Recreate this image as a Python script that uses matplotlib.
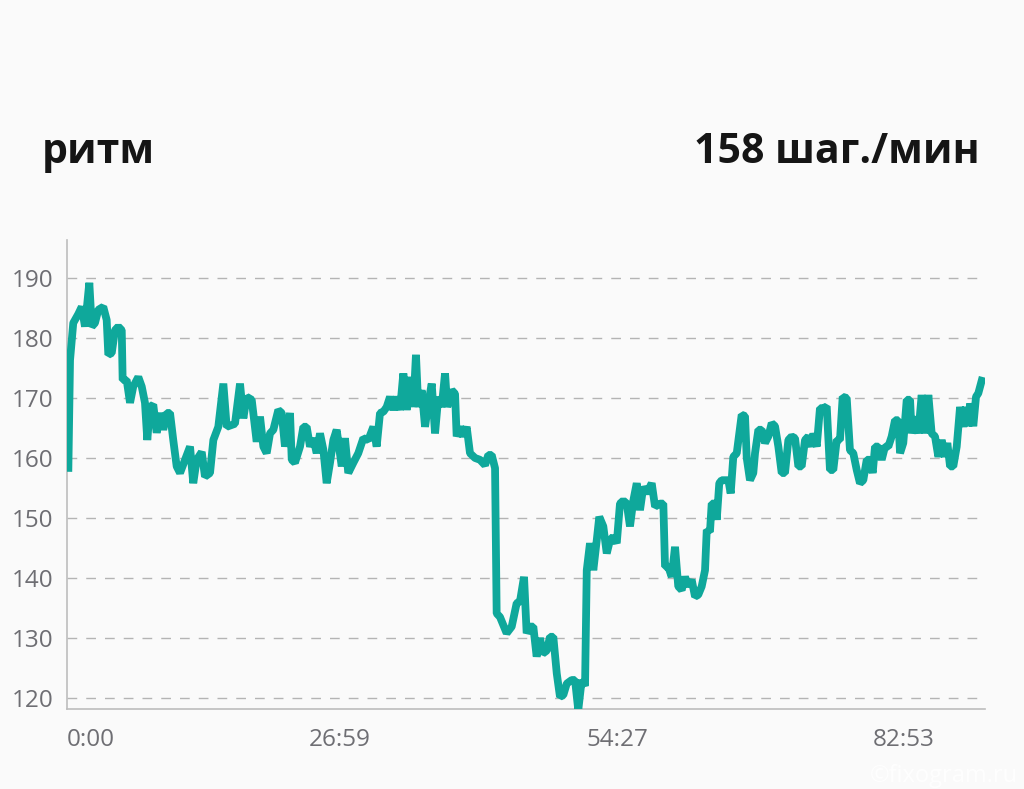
import matplotlib
matplotlib.use("Agg")
import matplotlib.pyplot as plt

# ---- data ----
title_left = "ритм"
title_right = "158 шаг./мин"
y_ticks = [120, 130, 140, 150, 160, 170, 180, 190]
x_tick_minutes = [0.0, 26 + 59/60, 54 + 27/60, 82 + 53/60]
x_tick_labels = ["0:00", "26:59", "54:27", "82:53"]

time_min = [
    0.13, 0.30, 0.62, 1.12, 1.46, 1.78, 2.21, 2.45, 2.77, 3.10, 3.59, 3.93, 4.09, 4.43, 4.75, 5.08,
    5.42, 5.51, 5.91, 6.24, 6.56, 7.06, 7.40, 7.72, 7.95, 8.22, 8.54, 8.88, 9.21, 9.53, 9.87, 10.20,
    10.52, 10.86, 11.19, 11.68, 12.18, 12.50, 12.84, 13.34, 13.66, 14.16, 14.49, 14.98, 15.48, 15.81,
    16.31, 16.63, 17.13, 17.46, 17.79, 18.29, 18.78, 19.11, 19.44, 19.77, 20.10, 20.43, 20.92, 21.26,
    21.58, 22.08, 22.25, 22.57, 23.07, 23.40, 23.73, 24.06, 24.39, 24.72, 25.05, 25.38, 25.71, 26.04,
    26.37, 26.70, 27.20, 27.52, 27.85, 28.35, 28.84, 29.34, 29.83, 30.33, 30.66, 30.99,
    31.32, 31.65, 31.98, 32.31, 32.64, 32.97, 33.30, 33.63, 33.96, 34.29, 34.55, 34.78, 35.12, 35.45,
    35.77, 36.11, 36.44, 36.76, 37.10, 37.43, 37.65, 38.09, 38.42, 38.58, 38.91, 39.24, 39.57, 39.90,
    40.40, 40.89, 41.39, 41.71, 42.05, 42.38, 42.54, 42.87, 43.53, 44.03, 44.52, 44.85, 45.25, 45.51,
    45.84, 46.17, 46.50, 46.83, 47.10, 47.50, 47.82, 48.15, 48.49, 48.81, 49.14, 49.48, 49.97, 50.30,
    50.62, 50.96, 51.29, 51.46, 51.78, 52.11, 52.45, 52.70, 53.10, 53.44, 53.76, 54.09, 54.43, 54.75,
    55.08, 55.42, 55.74, 56.07, 56.41, 56.73, 57.06, 57.40, 57.89, 58.22, 58.71,
    59.04, 59.21, 59.53, 59.87, 60.20, 60.52, 60.86, 61.19, 61.51, 61.85, 62.18, 62.50, 62.84, 63.17,
    63.34, 63.66, 63.83, 64.16, 64.33, 64.58, 64.82, 65.15, 65.48, 65.71, 65.97, 66.31, 66.80, 67.13,
    67.30, 67.62, 67.95, 68.12, 68.45, 68.78, 69.11, 69.44, 69.77, 70.10, 70.43, 70.76, 71.09, 71.42,
    71.75, 72.08, 72.41, 72.74, 73.07, 73.40, 73.73, 73.89, 74.23, 74.55, 74.88, 75.22, 75.54, 75.87,
    76.21, 76.53, 76.80, 77.20, 77.52, 77.85, 78.19, 78.51, 78.84, 79.18, 79.50, 79.77, 80.00, 80.33,
    80.66, 80.99, 81.32, 81.65, 81.98, 82.31, 82.48, 82.80, 83.14, 83.47, 83.63, 83.96, 84.29, 84.62,
    84.95, 85.28, 85.61, 85.94, 86.27, 86.60, 86.93, 87.16, 87.43, 87.75, 88.09, 88.42, 88.74, 89.01,
    89.24, 89.41, 89.73, 90.00, 90.23, 90.66,
]

cadence = [
    157.7, 176.3, 182.5, 184.0, 185.2, 181.9, 189.2, 181.9, 182.5, 184.7, 185.2, 183.0, 177.2, 177.5, 181.3, 181.9,
    181.3, 173.0, 173.0, 169.2, 171.9, 173.5, 171.9, 169.2, 163.0, 168.5, 168.9, 164.2, 167.5, 164.7, 167.5, 167.5,
    163.0, 158.6, 157.5, 159.7, 161.9, 155.8, 159.7, 161.0, 156.9, 157.5, 163.0, 165.2, 172.4, 165.2,
    165.5, 165.7, 172.4, 166.6, 170.2, 169.7, 162.7, 166.9, 161.9, 160.8, 164.1, 164.7, 168.0, 167.5,
    161.9, 167.5, 159.7, 159.2, 161.9, 165.2, 165.2, 161.9, 163.3, 160.8, 164.1, 161.4, 155.8, 159.2,
    163.0, 164.7, 158.6, 163.3, 157.5, 159.2, 160.8, 163.3, 163.0, 165.2, 161.9, 167.5,
    167.7, 168.5, 170.2, 168.0, 170.2, 168.0, 174.1, 168.0, 173.5, 168.5, 177.2, 168.5, 171.3, 165.2,
    169.1, 172.4, 164.1, 170.2, 168.5, 174.1, 168.5, 171.3, 170.7, 163.6, 165.2, 163.6, 165.2, 160.8,
    160.0, 159.7, 158.8, 160.5, 160.5, 158.3, 134.1, 133.5, 130.8, 131.9, 135.8, 136.1, 140.2, 130.8,
    131.9, 131.9, 126.9, 130.0, 127.4, 127.9, 130.2, 130.2, 124.1, 120.2, 120.5, 122.4, 123.0, 123.0,
    118.0, 123.0, 122.0, 141.3, 145.8, 141.3, 146.3, 150.2, 148.6, 144.1, 146.3, 146.9, 145.8, 152.4,
    152.9, 152.4, 148.6, 152.9, 155.8, 151.3, 155.2, 154.1, 155.8, 151.9, 152.4,
    152.4, 141.9, 141.9, 140.2, 145.2, 138.6, 138.0, 140.2, 138.6, 139.7, 136.9, 137.2, 138.6, 141.3,
    148.0, 147.7, 152.4, 152.4, 149.7, 155.8, 156.3, 156.3, 156.3, 154.1, 160.2, 160.8, 167.2, 167.0,
    160.0, 156.3, 157.5, 160.8, 164.7, 164.7, 162.5, 163.6, 165.8, 165.3, 161.9, 157.5, 157.5, 163.0,
    163.6, 163.3, 158.6, 158.6, 163.0, 163.6, 161.9, 164.1, 161.9, 168.3, 168.3, 168.6, 158.0, 158.0,
    163.0, 163.0, 170.2, 170.0, 161.3, 160.8, 158.0, 155.8, 156.3, 159.7, 159.7, 157.5, 161.9, 161.9,
    159.7, 161.9, 161.9, 163.6, 166.3, 166.3, 160.8, 162.5, 169.7, 169.7, 164.1, 166.9, 164.1, 170.5,
    164.1, 170.5, 164.1, 163.6, 160.2, 163.0, 160.2, 162.5, 158.6, 158.6, 161.9, 168.5, 165.2, 168.5,
    165.3, 169.1, 165.3, 170.2, 170.8, 173.5,
]

# ---- style ----
bg = "#fafafa"
line_color = "#0fa89b"
grid_color = "#b4b4b4"
spine_color = "#bdbdbd"
tick_color = "#6e6e73"

plt.rcParams['font.family'] = ['Open Sans', 'DejaVu Sans']

fig = plt.figure(figsize=(10.24, 7.89), dpi=100, facecolor=bg)
ax = fig.add_axes([67/1024, 1 - 709/789, (985 - 67)/1024, (709 - 240)/789])
ax.set_facecolor(bg)

ax.plot(time_min, cadence, color=line_color, lw=5.6, solid_joinstyle='bevel',
        solid_capstyle='butt', zorder=3)

ax.set_xlim(0, 90.89)
ax.set_ylim(118.17, 196.33)

ax.set_yticks(y_ticks)
ax.set_yticklabels([str(v) for v in y_ticks])
ax.set_xticks(x_tick_minutes)
ax.set_xticklabels(x_tick_labels)
for lab in ax.get_xticklabels()[:1]:
    lab.set_horizontalalignment('left')

ax.tick_params(axis='both', length=0, labelsize=17.5, colors=tick_color)
ax.tick_params(axis='y', pad=10)
ax.tick_params(axis='x', pad=14)

for y in y_ticks:
    ax.axhline(y, color=grid_color, lw=1.0, dashes=(7, 6.5), zorder=1)

for s in ['top', 'right']:
    ax.spines[s].set_visible(False)
for s in ['left', 'bottom']:
    ax.spines[s].set_color(spine_color)
    ax.spines[s].set_linewidth(1.2)

fig.text(42/1024, 1 - 163/789, title_left, fontsize=29.5, fontweight='bold',
         color='#151515', ha='left', va='baseline')
fig.text(980/1024, 1 - 163/789, title_right, fontsize=29.5, fontweight='bold',
         color='#151515', ha='right', va='baseline')

fig.text(1018/1024, 1 - 782/789, "©fixogram.ru", fontsize=17, color='white',
         ha='right', va='baseline', alpha=0.9)

fig.savefig("out.png", dpi=100, facecolor=bg)
